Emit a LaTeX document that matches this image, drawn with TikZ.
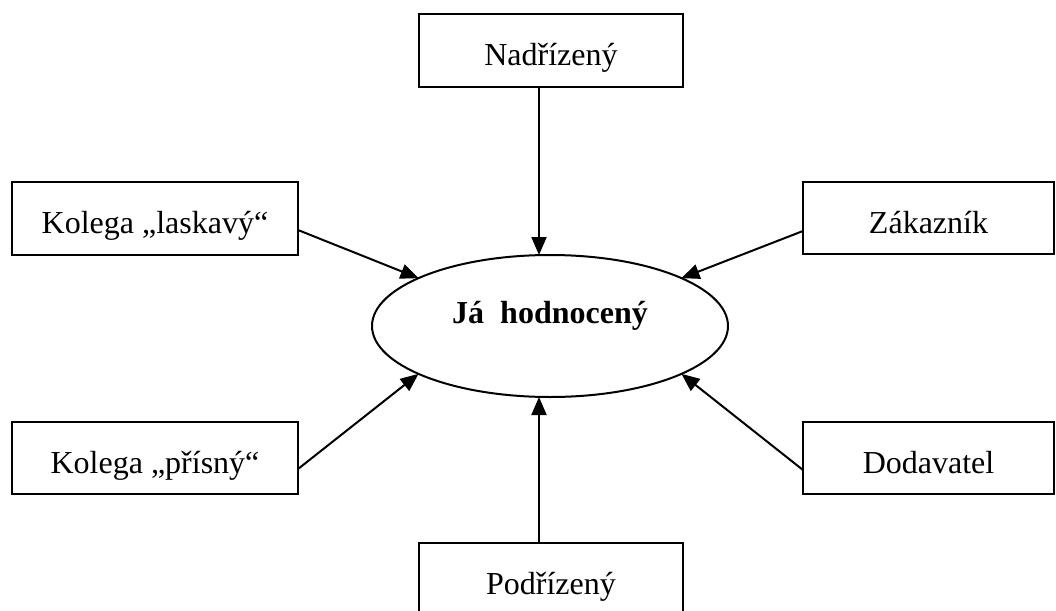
\documentclass[tikz,border=0pt]{standalone}
\usepackage{fontspec}
\setmainfont{Liberation Serif}
\usetikzlibrary{shapes.geometric,arrows.meta,calc}
\begin{document}
\begin{tikzpicture}[x=1pt,y=-1pt,
  box/.style={draw,line width=2pt,rectangle,inner sep=0pt,outer sep=0pt,minimum height=73pt,text height=30pt,text depth=0pt,font=\fontsize{32}{38}\selectfont},
  centre/.style={draw,line width=2pt,ellipse,inner sep=0pt,outer sep=0pt,minimum width=356pt,minimum height=142pt,text height=10pt,text depth=16pt,font=\fontsize{32}{38}\selectfont\bfseries},
  arr/.style={line width=2pt,-{Triangle[length=18pt,width=15pt]}}]
\useasboundingbox (0,0) rectangle (1056,610);
\clip (0,0) rectangle (1056,610);
\node[centre] (ell) at (550,326) {Já\ \ hodnocený};
\node[box,minimum width=264pt] (nad) at (551,50.5) {Nadřízený};
\node[box,minimum width=286pt] (lask) at (155,218.5) {Kolega „laskavý“};
\node[box,minimum width=251pt,minimum height=72pt] (zak) at (928.5,218) {Zákazník};
\node[box,minimum width=286pt,minimum height=72pt] (pris) at (155,458) {Kolega „přísný“};
\node[box,minimum width=251pt,minimum height=72pt] (dod) at (928.5,458) {Dodavatel};
\node[box,minimum width=264pt] (pod) at (551,579.5) {Podřízený};
\coordinate (nt) at ($(nad.south)+(-12,0)$);
\coordinate (pt) at ($(pod.north)+(-12,0)$);
\draw[arr] (nt) -- (nt |- ell.north);
\draw[arr] (pt) -- (pt |- ell.south);
\draw[arr] ($(lask.east)+(0,11.5)$) -- (ell.160);
\draw[arr] ($(zak.west)+(0,13)$) -- (ell.20);
\draw[arr] ($(pris.east)+(0,11)$) -- (ell.200);
\draw[arr] ($(dod.west)+(0,12)$) -- (ell.340);
\end{tikzpicture}
\end{document}
